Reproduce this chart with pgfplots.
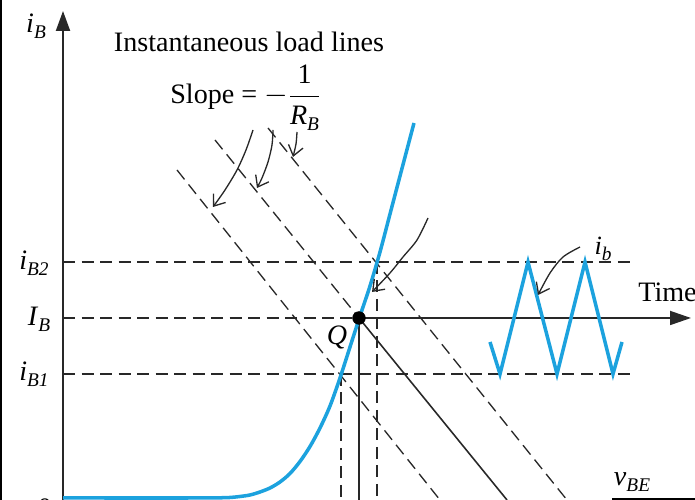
\documentclass[border=0pt]{standalone}
\usepackage{fontspec}
\setmainfont{Liberation Serif}
\usepackage{pgfplots}
\pgfplotsset{compat=1.18}
\usetikzlibrary{arrows.meta}
\definecolor{curve}{RGB}{28,162,222}
\definecolor{ink}{RGB}{40,40,40}
\newcommand{\sym}[2]{\textit{#1}\raisebox{-0.45ex}{\fontsize{11}{12}\selectfont\textit{#2}}}
\tikzset{
  dline/.style={ink, line width=0.75pt, dash pattern=on 2.4mm off 1.3mm},
  pointer/.style={ink, line width=0.75pt, smooth, -{Straight Barb[length=2mm,width=3mm]}},
}
\begin{document}
\begin{tikzpicture}[font=\fontsize{16}{19}\selectfont]
\path[use as bounding box] (0,0) rectangle (13.9cm,10cm);
\clip (0,0) rectangle (13.9cm,10cm);
\begin{axis}[
  at={(0,0)}, anchor=south west,
  width=13.9cm, height=10cm, scale only axis,
  xmin=0, xmax=695, ymin=0, ymax=500,
  hide axis, clip=false,
]
% frame edge on the left
\addplot[black, line width=1.6pt] coordinates {(1,0) (1,500)};
% load lines
\addplot[dline] coordinates {(177,330) (440,0)};
\addplot[dline] coordinates {(215,360) (359,182)};
\addplot[ink, line width=0.9pt] coordinates {(359,182) (507,0)};
\addplot[dline] coordinates {(268,372) (567,0)};
% levels
\addplot[dline] coordinates {(63,238) (632,238)};
\addplot[dline] coordinates {(63,182) (359,182)};
\addplot[dline] coordinates {(63,126) (632,126)};
\addplot[dline] coordinates {(341,126) (341,0)};
\addplot[ink, line width=0.9pt] coordinates {(359,182) (359,0)};
\addplot[dline] coordinates {(377,238) (377,0)};
% axes
\addplot[ink, line width=1.2pt, -{Triangle[length=4mm,width=2.8mm]}] coordinates {(63,0) (63,489)};
\addplot[ink, line width=1pt, -{Triangle[length=4.2mm,width=2.8mm]}] coordinates {(359,182) (691,182)};
\addplot[black, line width=1.4pt] coordinates {(612,1) (695,1)};
% input characteristic
\addplot[curve, line width=2pt, smooth] coordinates {
  (63,2) (200,2) (220,2.2) (230,2.5) (240,3.5) (250,5) (260,8) (270,12)
  (280,18) (290,26.5) (300,38.5) (310,53.5) (320,72) (330,94) (340,122)
  (350,153) (360,184) (370,214) (380,248) (390,286) (400,324) (414,377)};
% base current
\addplot[curve, line width=2pt, miter limit=20] coordinates {
  (490,158) (500,126) (528,238) (557,126) (585,238) (613,126) (622,158)};
% Q point
\addplot[only marks, mark=*, mark size=3.6pt, black] coordinates {(359,182)};
% pointers
\addplot[pointer] coordinates {(253,370) (246,350) (237,330) (225,310) (213,293)};
\addplot[pointer] coordinates {(273,370) (272,355) (268,338) (262,322) (257,312)};
\addplot[pointer] coordinates {(297,368) (296,356) (293,343)};
\addplot[pointer] coordinates {(428,282) (417,260) (403,243) (390,227) (372,208)};
\addplot[pointer] coordinates {(580,253) (563,243) (550,227) (538,205)};
% text
\node at (axis cs:36,474) {\sym{i}{B}};
\node[anchor=base] at (axis cs:249,448) {Instantaneous load lines};
\node[anchor=base west, inner sep=0pt] at (axis cs:170,396) {Slope = $-\displaystyle\frac{\mbox{1}}{\mbox{\sym{R}{B}}}$};
\node at (axis cs:34,237) {\sym{i}{B2}};
\node at (axis cs:39,181) {\sym{I}{B}};
\node at (axis cs:34,126) {\sym{i}{B1}};
\node at (axis cs:337,163) {\textit{Q}};
\node[anchor=base west, inner sep=0pt] at (axis cs:638,198) {Time};
\node[font=\fontsize{15}{17}\selectfont] at (axis cs:603,251) {\sym{i}{b}};
\node at (axis cs:632,18) {\sym{v}{BE}};
\node at (axis cs:45,-8) {0};
\end{axis}
\end{tikzpicture}
\end{document}
